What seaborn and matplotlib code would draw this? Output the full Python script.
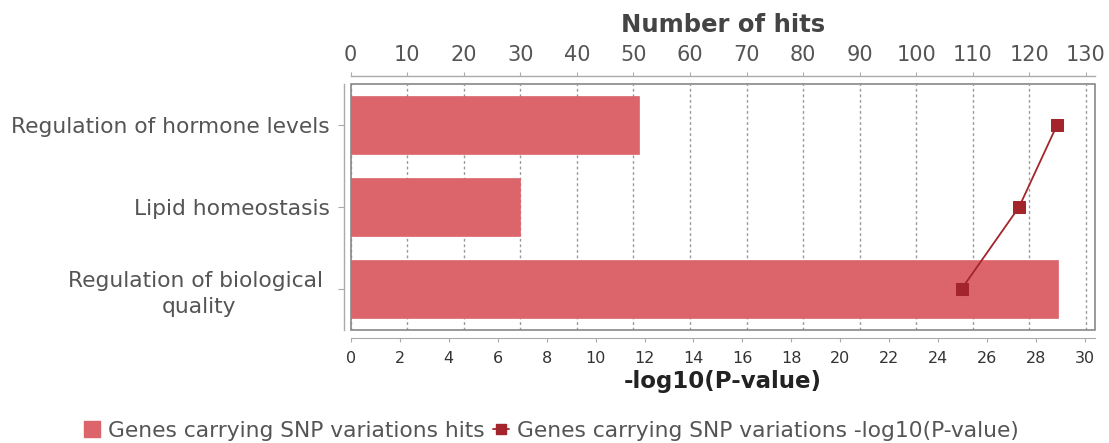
import numpy as np
import pandas as pd
import matplotlib
matplotlib.use("Agg")
import matplotlib.pyplot as plt
from matplotlib.patches import Rectangle
from matplotlib.lines import Line2D
from matplotlib.patches import Patch
import seaborn as sns

categories = ["Regulation of hormone levels", "Lipid homeostasis",
              "Regulation of biological \nquality"]
hits = [51, 30, 125]
neg_log_p = [28.85, 27.3, 24.95]
hits_ticks = list(range(0, 131, 10))
p_ticks = list(range(0, 31, 2))

bar_color = "#DC656C"
line_color = "#A3252B"
text_color = "#444444"
spine_color = "#AAAAAA"

sns.set_style("white")
plt.rcParams["font.family"] = ["DejaVu Sans"]

fig = plt.figure(figsize=(11.09, 4.43), dpi=100)
ax = fig.add_axes([350.7 / 1109, 1 - 330 / 443, (1095 - 350.7) / 1109, (330 - 84) / 443])
ax2 = ax.twiny()

df = pd.DataFrame({"category": categories, "hits": hits, "p": neg_log_p})
sns.barplot(data=df, x="hits", y="category", orient="h", color=bar_color,
            width=0.7, ax=ax, saturation=1, edgecolor=bar_color, linewidth=0.5)

ypos = np.arange(len(categories))
sns.lineplot(x=neg_log_p, y=ypos, sort=False, estimator=None, ax=ax2, color=line_color,
             marker="s", markersize=9, markeredgecolor=line_color, linewidth=1.3)

# main axis: hits on top
ax.set_ylim(2.5, -0.5)
ax.set_xlim(0, 131.6)
ax.xaxis.tick_top()
ax.xaxis.set_label_position("top")
ax.set_xticks(hits_ticks)
ax.set_xlabel("Number of hits", fontsize=17.5, fontweight="bold", color=text_color, labelpad=9)
ax.set_ylabel("")
ax.set_yticks(ypos)
ax.set_yticklabels(categories)
ax.tick_params(axis="x", which="both", top=True, bottom=False, labeltop=True, labelbottom=False,
               labelsize=15, labelcolor="#555555", color=spine_color, length=3, pad=5, direction="out")
ax.tick_params(axis="y", left=True, labelsize=15.7, labelcolor="#555555", color=spine_color,
               length=4, pad=6.5, direction="out")

for s in ["right", "bottom"]:
    ax.spines[s].set_visible(False)
ax.spines["top"].set_position(("outward", 5.8))
ax.spines["left"].set_position(("outward", 4.8))
for s in ["top", "left"]:
    ax.spines[s].set_visible(True)
    ax.spines[s].set_color(spine_color)
    ax.spines[s].set_linewidth(1.0)

ax.set_axisbelow(True)
ax.xaxis.grid(True, linestyle=(0, (2, 2)), color="#999999", linewidth=1.0)
ax.yaxis.grid(False)
ax.add_patch(Rectangle((0, 0), 1, 1, transform=ax.transAxes, fill=False,
                       edgecolor="#888888", linewidth=1.2, clip_on=False, zorder=5))

# twin axis: -log10(P) on bottom
ax2.set_ylim(2.5, -0.5)
ax2.set_xlim(0, 30.4)
ax2.xaxis.tick_bottom()
ax2.xaxis.set_label_position("bottom")
ax2.set_xticks(p_ticks)
ax2.set_xlabel("-log10(P-value)", fontsize=16.5, fontweight="bold", color="#222222", labelpad=3)
ax2.tick_params(axis="x", bottom=True, top=False, labelbottom=True, labeltop=False,
                labelsize=11.5, labelcolor="#333333", color=spine_color, length=3, pad=6, direction="out")
for s in ["top", "right", "left"]:
    ax2.spines[s].set_visible(False)
ax2.spines["bottom"].set_visible(True)
ax2.spines["bottom"].set_position(("outward", 5.8))
ax2.spines["bottom"].set_color(spine_color)
ax2.grid(False)

handles = [Patch(facecolor=bar_color, edgecolor=bar_color),
           Line2D([0], [0], color=line_color, marker="s", markersize=7.5, linewidth=1.3)]
labels = ["Genes carrying SNP variations hits", "Genes carrying SNP variations -log10(P-value)"]
fig.legend(handles, labels, loc="center", bbox_to_anchor=(0.497, 0.027), ncol=2, frameon=False,
           fontsize=15.7, labelcolor="#555555", handlelength=0.75, handleheight=0.75,
           handletextpad=0.35, columnspacing=0.4, borderaxespad=0)

fig.canvas.draw()
for lbl in ax.get_yticklabels():
    lbl.set_multialignment("center")
    lbl.set_linespacing(1.4)

fig.savefig("out.png", dpi=100)
